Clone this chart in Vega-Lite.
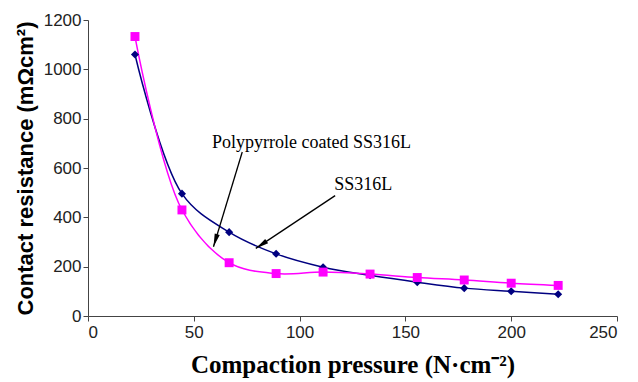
{
  "$schema": "https://vega.github.io/schema/vega-lite/v6.json",
  "width": 529,
  "height": 296,
  "autosize": "none",
  "padding": {"left": 88, "top": 20, "right": 21, "bottom": 66},
  "background": "white",
  "config": {"view": {"stroke": null}},
  "datasets": {
    "series": [
      {"series": "SS316L", "x": 22.2, "y": 1060},
      {"series": "SS316L", "x": 44.4, "y": 496},
      {"series": "SS316L", "x": 66.7, "y": 340},
      {"series": "SS316L", "x": 88.9, "y": 252},
      {"series": "SS316L", "x": 111.1, "y": 198},
      {"series": "SS316L", "x": 133.3, "y": 165},
      {"series": "SS316L", "x": 155.6, "y": 137},
      {"series": "SS316L", "x": 177.8, "y": 113},
      {"series": "SS316L", "x": 200, "y": 100},
      {"series": "SS316L", "x": 222.2, "y": 88},
      {"series": "Polypyrrole coated SS316L", "x": 22.2, "y": 1133},
      {"series": "Polypyrrole coated SS316L", "x": 44.4, "y": 430},
      {"series": "Polypyrrole coated SS316L", "x": 66.7, "y": 216},
      {"series": "Polypyrrole coated SS316L", "x": 88.9, "y": 172},
      {"series": "Polypyrrole coated SS316L", "x": 111.1, "y": 178},
      {"series": "Polypyrrole coated SS316L", "x": 133.3, "y": 170},
      {"series": "Polypyrrole coated SS316L", "x": 155.6, "y": 156},
      {"series": "Polypyrrole coated SS316L", "x": 177.8, "y": 146},
      {"series": "Polypyrrole coated SS316L", "x": 200, "y": 133},
      {"series": "Polypyrrole coated SS316L", "x": 222.2, "y": 124}
    ],
    "labels": [
      {"label": "Polypyrrole coated SS316L", "x": 58.6, "y": 680},
      {"label": "SS316L", "x": 116.4, "y": 511}
    ],
    "arrows": [
      {"arrow": "coated", "x": 72.9, "y": 665, "x2": 59.3, "y2": 281},
      {"arrow": "bare", "x": 116.8, "y": 488, "x2": 79.3, "y2": 274}
    ]
  },
  "layer": [
    {
      "data": {"name": "series"},
      "mark": {"type": "line", "interpolate": "catmull-rom", "strokeWidth": 1.5},
      "encoding": {
        "x": {
          "field": "x", "type": "quantitative",
          "scale": {"domain": [0, 250], "nice": false},
          "axis": {
            "values": [0, 50, 100, 150, 200, 250],
            "format": "d",
            "title": "Compaction pressure (N·cm⁻²)",
            "grid": false,
            "domainColor": "#444", "tickColor": "#444", "tickSize": 5,
            "labelFont": "Liberation Sans", "labelFontSize": 17, "labelColor": "#222", "labelPadding": 3,
            "titleFont": "Liberation Serif", "titleFontSize": 25, "titleFontWeight": "bold", "titleColor": "#000", "titlePadding": 12
          }
        },
        "y": {
          "field": "y", "type": "quantitative",
          "scale": {"domain": [0, 1200], "nice": false},
          "axis": {
            "values": [0, 200, 400, 600, 800, 1000, 1200],
            "format": "d",
            "title": "Contact resistance (mΩcm²)",
            "grid": false,
            "domainColor": "#444", "tickColor": "#444", "tickSize": 5,
            "labelFont": "Liberation Sans", "labelFontSize": 17, "labelColor": "#222", "labelPadding": 2,
            "titleFont": "Liberation Sans", "titleFontSize": 22, "titleFontWeight": "bold", "titleColor": "#000", "titlePadding": 6
          }
        },
        "color": {
          "field": "series", "type": "nominal",
          "scale": {"domain": ["SS316L", "Polypyrrole coated SS316L"], "range": ["#000080", "#FF00FF"]},
          "legend": null
        }
      }
    },
    {
      "data": {"name": "series"},
      "mark": {"type": "point", "filled": true, "opacity": 1},
      "encoding": {
        "x": {"field": "x", "type": "quantitative"},
        "y": {"field": "y", "type": "quantitative"},
        "color": {"field": "series", "type": "nominal", "legend": null},
        "shape": {
          "field": "series", "type": "nominal",
          "scale": {"domain": ["SS316L", "Polypyrrole coated SS316L"], "range": ["diamond", "square"]},
          "legend": null
        },
        "size": {
          "field": "series", "type": "nominal",
          "scale": {"domain": ["SS316L", "Polypyrrole coated SS316L"], "range": [65, 80]},
          "legend": null
        }
      }
    },
    {
      "data": {"name": "arrows"},
      "mark": {"type": "rule", "color": "#000", "strokeWidth": 1.3},
      "encoding": {
        "x": {"field": "x", "type": "quantitative"},
        "y": {"field": "y", "type": "quantitative"},
        "x2": {"field": "x2"},
        "y2": {"field": "y2"}
      }
    },
    {
      "data": {"name": "arrows"},
      "transform": [{"filter": "datum.arrow == 'coated'"}],
      "mark": {"type": "point", "filled": true, "color": "#000", "opacity": 1, "shape": "M0,0L0.4,2L-0.4,2Z", "size": 170, "angle": 196.7},
      "encoding": {
        "x": {"field": "x2", "type": "quantitative"},
        "y": {"field": "y2", "type": "quantitative"}
      }
    },
    {
      "data": {"name": "arrows"},
      "transform": [{"filter": "datum.arrow == 'bare'"}],
      "mark": {"type": "point", "filled": true, "color": "#000", "opacity": 1, "shape": "M0,0L0.4,2L-0.4,2Z", "size": 170, "angle": 236.3},
      "encoding": {
        "x": {"field": "x2", "type": "quantitative"},
        "y": {"field": "y2", "type": "quantitative"}
      }
    },
    {
      "data": {"name": "labels"},
      "mark": {"type": "text", "align": "left", "baseline": "alphabetic", "font": "Liberation Serif", "fontSize": 18, "color": "#000"},
      "encoding": {
        "x": {"field": "x", "type": "quantitative"},
        "y": {"field": "y", "type": "quantitative"},
        "text": {"field": "label"}
      }
    }
  ]
}
